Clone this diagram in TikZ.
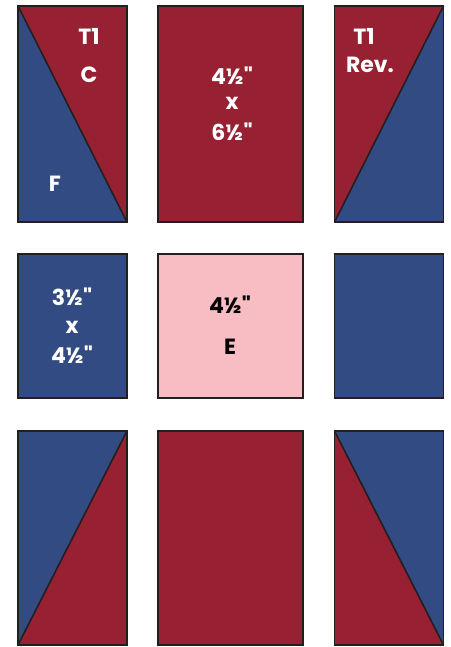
\documentclass[tikz,border=0pt]{standalone}
\usepackage{fontspec}
\setmainfont{Poppins}[Ligatures=TeXOff]
\definecolor{quiltred}{HTML}{972133}
\definecolor{quiltblue}{HTML}{324B82}
\definecolor{quiltpink}{HTML}{F8BCC3}
\definecolor{seam}{HTML}{231F20}
\begin{document}
\begin{tikzpicture}[x=1pt,y=-1pt,
  patch/.style={draw=seam, line width=1.6pt, inner sep=0pt, outer sep=0pt},
  tall/.style={patch, minimum width=109pt, minimum height=216pt},
  wide/.style={patch, minimum width=145pt, minimum height=216pt},
  mid/.style={patch, minimum width=109pt, minimum height=144pt},
  lbl/.style={font=\fontsize{22}{24}\selectfont\bfseries, text=white},
  seamline/.style={draw=seam, line width=1.6pt}]
\useasboundingbox (0,0) rectangle (450,647);
% top row
\node[tall, fill=quiltred] (tl) at (72.5,114) {};
\fill[quiltblue] (tl.north west) -- (tl.south east) -- (tl.south west) -- cycle;
\draw[seamline] (tl.north west) -- (tl.south east);
\draw[seamline] (tl.north west) rectangle (tl.south east);
\node[wide, fill=quiltred] (tm) at (230.5,114) {};
\node[tall, fill=quiltred] (tr) at (389,114) {};
\fill[quiltblue] (tr.south west) -- (tr.north east) -- (tr.south east) -- cycle;
\draw[seamline] (tr.south west) -- (tr.north east);
\draw[seamline] (tr.north west) rectangle (tr.south east);
\node[lbl] (t1a) at (89,36) {T1};
\node[lbl] (ca) at (89,75) {C};
\node[lbl] (fa) at (55,184) {F};
\node[lbl] (tmtop) at (232,76) {4½"};
\node[lbl] (tmx) at (232,103) {x};
\node[lbl] (tmbot) at (232,132) {6½"};
\node[lbl] (t1b) at (364,36) {T1};
\node[lbl] (rev) at (370,65) {Rev.};
% middle row
\node[mid, fill=quiltblue] (ml) at (72.5,326) {};
\node[patch, fill=quiltpink, minimum width=145pt, minimum height=144pt] (mm) at (230.5,326) {};
\node[mid, fill=quiltblue] (mr) at (389,326) {};
\node[lbl] (mltop) at (72,297) {3½"};
\node[lbl] (mlx) at (72,327) {x};
\node[lbl] (mlbot) at (72,355) {4½"};
\node[lbl, text=black] (mmtop) at (230,305) {4½"};
\node[lbl, text=black] (mme) at (230,347) {E};
% bottom row
\node[tall, fill=quiltred, minimum height=214pt] (bl) at (72.5,538) {};
\fill[quiltblue] (bl.north west) -- (bl.north east) -- (bl.south west) -- cycle;
\draw[seamline] (bl.south west) -- (bl.north east);
\draw[seamline] (bl.north west) rectangle (bl.south east);
\node[wide, fill=quiltred, minimum height=214pt] (bm) at (230.5,538) {};
\node[tall, fill=quiltred, minimum height=214pt] (br) at (389,538) {};
\fill[quiltblue] (br.north west) -- (br.north east) -- (br.south east) -- cycle;
\draw[seamline] (br.north west) -- (br.south east);
\draw[seamline] (br.north west) rectangle (br.south east);
\end{tikzpicture}
\end{document}
